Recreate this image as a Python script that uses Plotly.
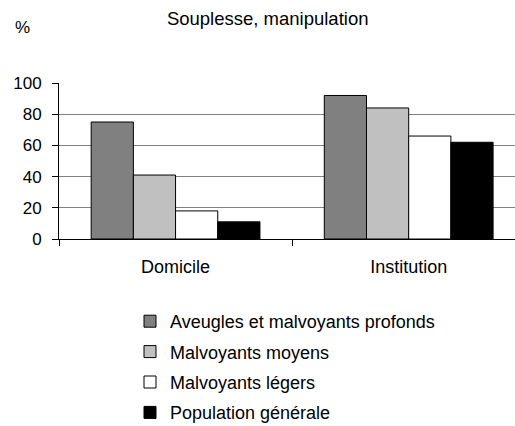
import plotly.graph_objects as go

categories = ['Domicile', 'Institution']
series_names = ['Aveugles et malvoyants profonds', 'Malvoyants moyens',
                'Malvoyants légers', 'Population générale']
aveugles = [75, 92]
moyens = [41, 84]
legers = [18, 66]
population = [11, 62]
y_ticks = [0, 20, 40, 60, 80, 100]

W, H = 515, 426
FONT = 'Liberation Sans, Arial, sans-serif'
colors = ['#808080', '#C0C0C0', '#FFFFFF', '#000000']

fig = go.Figure()
for name, vals, col in zip(series_names, [aveugles, moyens, legers, population], colors):
    fig.add_trace(go.Bar(
        x = categories,
        y = vals,
        name = name,
        legendgroup = name,
        marker = dict(color = col, line = dict(color = '#000000', width = 1))))

fig.update_layout(
    width = W,
    height = H,
    margin = dict(l=59, r=0, t=83, b=187, autoexpand = False),
    plot_bgcolor = '#FFFFFF',
    paper_bgcolor = '#FFFFFF',
    barmode = 'group',
    bargap = 0.276,
    bargroupgap = 0,
    font = dict(family = FONT, size = 17, color = '#000000'),
    title = dict(text = 'Souplesse, manipulation',
                 font = dict(family = FONT, size = 18.5, color = '#000000'),
                 x = 267.7 / W, xanchor = 'center',
                 y = 1 - 19 / H, yanchor = 'middle'),
    legend = dict(
        xref = 'container', yref = 'container',
        x = 130 / W, xanchor = 'left',
        y = 1 - 303 / H, yanchor = 'top',
        traceorder = 'grouped',
        tracegroupgap = 4,
        font = dict(family = FONT, size = 18, color = '#000000'),
        bgcolor = 'rgba(0,0,0,0)'),
    annotations = [dict(
        text = '%', showarrow = False,
        xref = 'paper', yref = 'paper',
        x = (22 - 59) / (W - 59), xanchor = 'center',
        y = 1 + (83 - 28) / (H - 83 - 187), yanchor = 'middle',
        font = dict(family = FONT, size = 17, color = '#000000'))])

fig.update_xaxes(
    range = [-0.5, 1.456],
    showline = True, linecolor = '#000000', linewidth = 1,
    ticks = 'outside', tickson = 'boundaries', ticklen = 6, tickcolor = '#000000',
    tickfont = dict(size = 18), tickangle = 0, ticklabelstandoff = 11,
    showgrid = False)

fig.update_yaxes(
    range = [0, 100],
    tickvals = y_ticks,
    showline = True, linecolor = '#000000', linewidth = 1,
    ticks = 'outside', ticklen = 6, tickcolor = '#000000',
    tickfont = dict(size = 17), ticklabelstandoff = 7,
    showgrid = True, gridcolor = '#808080', gridwidth = 1,
    zeroline = False)

# the page body has a default 8px margin, drop it so the figure sits at 0,0
fig.write_html('out.html',
               config = {'displayModeBar': False},
               post_script = "document.body.style.margin = '0';")
